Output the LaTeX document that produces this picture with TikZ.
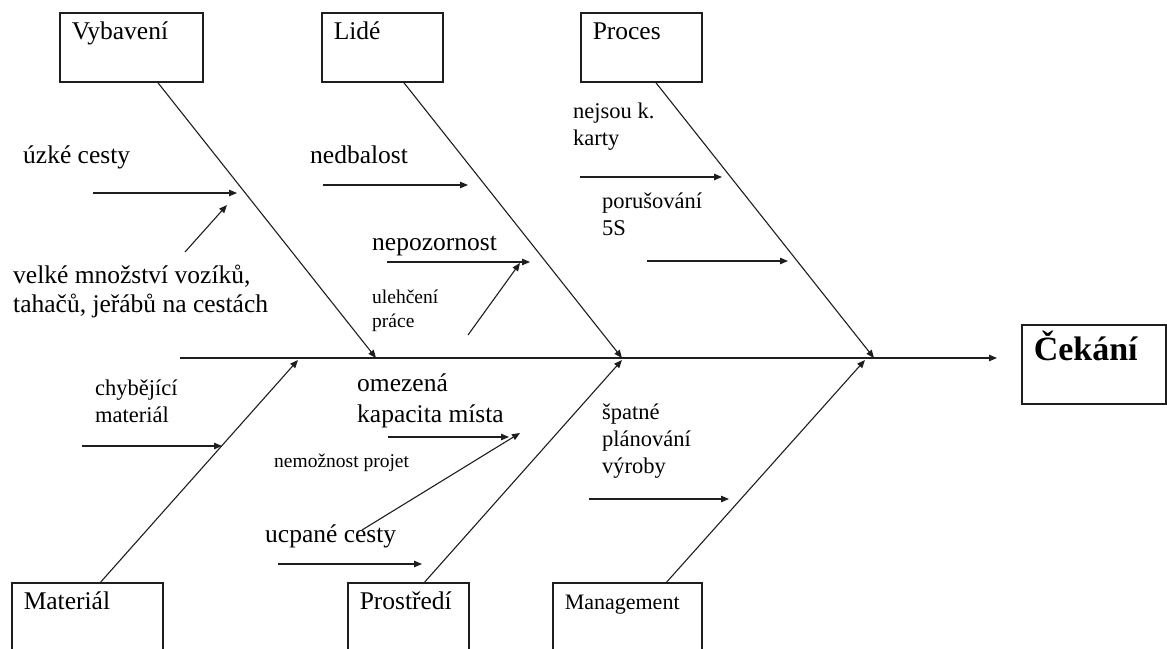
\documentclass[tikz,border=0pt]{standalone}
\usepackage{fontspec}
\setmainfont{Liberation Serif}
\usetikzlibrary{arrows.meta,positioning}
\definecolor{FbLine}{RGB}{30,30,30}

\begin{document}
\begin{tikzpicture}[x=1pt,y=-1pt,
  box/.style={draw=FbLine,line width=1.5pt,anchor=north west,align=left,
              inner xsep=12pt,inner ysep=0pt,text height=26.5pt,text depth=42.5pt,
              font=\fontsize{25.5}{28}\selectfont},
  lbl/.style={anchor=base west,inner sep=0pt,align=left,font=\fontsize{25.5}{29}\selectfont},
  mid/.style={lbl,font=\fontsize{22.5}{27}\selectfont},
  small/.style={lbl,font=\fontsize{19.5}{24}\selectfont},
  arrow/.style={draw=FbLine,line width=1.1pt,-{Triangle[length=8pt,width=6.5pt]}}
]
\useasboundingbox (0,0) rectangle (1167,648);

% categories
\node[box,text width=119pt] (vyb) at (59,12) {Vybavení};
\node[box,text width=97pt] (lide) at (321,12) {Lidé};
\node[box,text width=97pt] (proc) at (580,12) {Proces};
\node[box,text width=127pt] (mat) at (11,582) {Materiál};
\node[box,text width=97pt] (pros) at (347,582) {Prostředí};
\node[box,text width=125pt,font=\fontsize{22}{26}\selectfont] (mgmt) at (552,582) {Management};
\node[box,text width=120pt,text height=36pt,text depth=43pt,
      font=\bfseries\fontsize{34}{38}\selectfont] (cek) at (1021,324) {Čekání};

% spine and bones
\coordinate (tail) at (180,358);
\coordinate (j1) at (376,358);
\coordinate (j2) at (622,358);
\coordinate (j3) at (874,358);
\coordinate (k1) at (298,360);
\coordinate (k2) at (622,360);
\coordinate (k3) at (865,360);
\draw[arrow] (tail) -- ([xshift=-24pt]cek.west |- tail);
\draw[arrow] ([xshift=26.5pt]vyb.south) -- (j1);
\draw[arrow] ([xshift=21.5pt]lide.south) -- (j2);
\draw[arrow] ([xshift=14.5pt]proc.south) -- (j3);
\draw[arrow] ([xshift=13.5pt]mat.north) -- (k1);
\draw[arrow] ([xshift=16.5pt]pros.north) -- (k2);
\draw[arrow] ([xshift=39.5pt]mgmt.north) -- (k3);

% causes (base = last line)
\node[lbl] (uzke) at (23,163) {úzké cesty};
\node[lbl] (velke) at (13,312) {velké množství vozíků,\\tahačů, jeřábů na cestách};
\node[lbl] (nedb) at (310,163) {nedbalost};
\node[lbl] (nepoz) at (372,250) {nepozornost};
\node[small] (uleh) at (372,327) {ulehčení\\práce};
\node[mid] (nejsou) at (573,145) {nejsou k.\\karty};
\node[mid] (porus) at (602,235) {porušování\\5S};
\node[mid] (chyb) at (95,422) {chybějící\\materiál};
\node[lbl,font=\fontsize{25.5}{31}\selectfont] (omez) at (357,422) {omezená\\kapacita místa};
\node[small] (nemoz) at (274,467) {nemožnost projet};
\node[lbl] (ucp) at (265,542) {ucpané cesty};
\node[mid] (spat) at (602,473) {špatné\\plánování\\výroby};

\coordinate (a1) at (93,193);   \coordinate (b1) at (237,193);
\coordinate (a2) at (185,252);  \coordinate (b2) at (227,205);
\coordinate (a3) at (323,185);  \coordinate (b3) at (468,185);
\coordinate (a4) at (387,262);  \coordinate (b4) at (530,262);
\coordinate (a5) at (468,335);  \coordinate (b5) at (520,263);
\coordinate (a6) at (580,177);  \coordinate (b6) at (722,177);
\coordinate (a7) at (647,261);  \coordinate (b7) at (788,261);
\coordinate (a8) at (82,446);   \coordinate (b8) at (222,446);
\coordinate (a9) at (388,437);  \coordinate (b9) at (509,437);
\coordinate (a10) at (362,530); \coordinate (b10) at (520,433);
\coordinate (a11) at (278,564); \coordinate (b11) at (422,564);
\coordinate (a12) at (589,499); \coordinate (b12) at (729,499);
\foreach \i in {1,...,12}
  \draw[arrow] (a\i) -- (b\i);
\end{tikzpicture}
\end{document}
